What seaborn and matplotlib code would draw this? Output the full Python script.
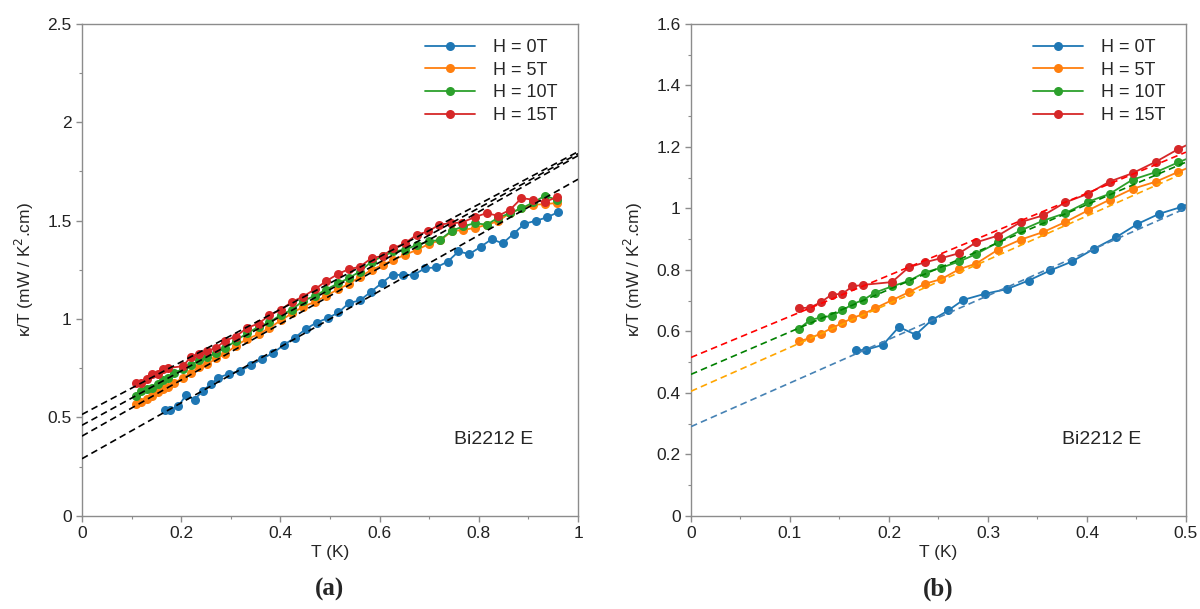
import numpy as np
import pandas as pd
import matplotlib
matplotlib.use("Agg")
import matplotlib.pyplot as plt
import seaborn as sns
from matplotlib.ticker import MultipleLocator, FuncFormatter

sns.set_style("ticks")
plt.rcParams['font.family'] = ['Liberation Sans', 'DejaVu Sans']

labels = ["H = 0T", "H = 5T", "H = 10T", "H = 15T"]
colors = ["#1f77b4", "#ff7f0e", "#2ca02c", "#d62728"]
fit_colors = ["steelblue", "orange", "green", "red"]

# H = 0T
T0 = [0.167, 0.177, 0.194, 0.210, 0.227, 0.243, 0.260, 0.275, 0.297, 0.319, 0.341,
      0.363, 0.385, 0.407, 0.429, 0.451, 0.473, 0.495, 0.517, 0.538, 0.560, 0.582,
      0.604, 0.626, 0.648, 0.669, 0.692, 0.714, 0.737, 0.759, 0.781, 0.804, 0.826,
      0.848, 0.870, 0.892, 0.915, 0.937, 0.960]
K0 = [0.538, 0.540, 0.556, 0.614, 0.589, 0.636, 0.668, 0.702, 0.722, 0.737, 0.765,
      0.798, 0.827, 0.868, 0.905, 0.949, 0.982, 1.004, 1.033, 1.081, 1.094, 1.137,
      1.182, 1.225, 1.223, 1.225, 1.258, 1.262, 1.291, 1.343, 1.330, 1.367, 1.406,
      1.384, 1.433, 1.484, 1.499, 1.516, 1.543]

# common temperature grid for H = 5T and 10T
T5 = [0.109, 0.120, 0.131, 0.142, 0.153, 0.163, 0.174, 0.186, 0.203, 0.220, 0.236,
      0.253, 0.271, 0.288, 0.310, 0.333, 0.356, 0.378, 0.401, 0.423, 0.446, 0.470,
      0.492, 0.517, 0.538, 0.560, 0.584, 0.606, 0.628, 0.651, 0.676, 0.700, 0.722,
      0.745, 0.768, 0.792, 0.816, 0.838, 0.863, 0.886, 0.910, 0.933, 0.957]
K5 = [0.567, 0.578, 0.592, 0.610, 0.627, 0.643, 0.656, 0.675, 0.701, 0.727, 0.754,
      0.770, 0.802, 0.820, 0.865, 0.898, 0.923, 0.955, 0.993, 1.028, 1.063, 1.087,
      1.118, 1.152, 1.178, 1.213, 1.250, 1.275, 1.301, 1.326, 1.352, 1.382, 1.399,
      1.445, 1.453, 1.462, 1.479, 1.496, 1.538, 1.563, 1.580, 1.584, 1.589]

T10 = T5
K10 = [0.608, 0.636, 0.645, 0.650, 0.668, 0.688, 0.702, 0.726, 0.746, 0.764, 0.791,
       0.807, 0.827, 0.851, 0.889, 0.928, 0.960, 0.984, 1.021, 1.047, 1.093, 1.118,
       1.149, 1.182, 1.208, 1.241, 1.292, 1.318, 1.343, 1.352, 1.377, 1.394, 1.402,
       1.448, 1.470, 1.487, 1.479, 1.513, 1.538, 1.563, 1.592, 1.626, 1.606]

T15 = [0.109, 0.120, 0.131, 0.142, 0.153, 0.163, 0.174, 0.203, 0.220, 0.236,
       0.253, 0.271, 0.288, 0.310, 0.333, 0.356, 0.378, 0.401, 0.423, 0.446, 0.470,
       0.492, 0.517, 0.538, 0.560, 0.584, 0.606, 0.628, 0.651, 0.675, 0.698, 0.720,
       0.743, 0.766, 0.792, 0.816, 0.839, 0.863, 0.886, 0.910, 0.933, 0.957]
K15 = [0.675, 0.677, 0.694, 0.719, 0.722, 0.746, 0.751, 0.760, 0.808, 0.824,
       0.838, 0.854, 0.889, 0.911, 0.955, 0.977, 1.019, 1.047, 1.087, 1.114, 1.152,
       1.192, 1.230, 1.253, 1.265, 1.310, 1.320, 1.360, 1.385, 1.428, 1.445, 1.479,
       1.487, 1.490, 1.518, 1.538, 1.524, 1.555, 1.614, 1.606, 1.594, 1.619]

# linear fits: intercept, slope
fit_intercepts = [0.290, 0.405, 0.460, 0.515]
fit_slopes = [1.420, 1.425, 1.380, 1.335]

series = [(T0, K0), (T5, K5), (T10, K10), (T15, K15)]

fig = plt.figure(figsize=(12, 6.09), dpi=100)
axA = fig.add_axes([0.0683, 0.153, 0.4134, 0.808])
axB = fig.add_axes([0.5758, 0.153, 0.4125, 0.808])

def draw(ax, xmax, fit_cols):
    xs = [0.0, xmax]
    for i, (T, K) in enumerate(series):
        sns.lineplot(x=T, y=K, ax=ax, color=colors[i], marker='o', markersize=6.5,
                     markeredgewidth=0, linewidth=1.3, sort=False, estimator=None,
                     label=labels[i])
    for i in range(4):
        ys = [fit_intercepts[i] + fit_slopes[i] * x for x in xs]
        ax.plot(xs, ys, linestyle=(0, (4, 2.5)), color=fit_cols[i], linewidth=1.2,
                zorder=3, label='_nolegend_')

def fmt(v, pos):
    s = f"{v:.2f}".rstrip('0').rstrip('.')
    return s

draw(axA, 1.0, ["black"] * 4)
draw(axB, 0.5, fit_colors)

axA.set_xlim(0, 1)
axA.set_ylim(0, 2.5)
axA.xaxis.set_major_locator(MultipleLocator(0.2))
axA.xaxis.set_minor_locator(MultipleLocator(0.1))
axA.yaxis.set_major_locator(MultipleLocator(0.5))
axA.yaxis.set_minor_locator(MultipleLocator(0.25))

axB.set_xlim(0, 0.5)
axB.set_ylim(0, 1.6)
axB.xaxis.set_major_locator(MultipleLocator(0.1))
axB.xaxis.set_minor_locator(MultipleLocator(0.05))
axB.yaxis.set_major_locator(MultipleLocator(0.2))
axB.yaxis.set_minor_locator(MultipleLocator(0.1))

for ax, tag in [(axA, "(a)"), (axB, "(b)")]:
    ax.xaxis.set_major_formatter(FuncFormatter(fmt))
    ax.yaxis.set_major_formatter(FuncFormatter(fmt))
    for s in ax.spines.values():
        s.set_color("#8c8c8c")
        s.set_linewidth(1.0)
    ax.tick_params(which='major', direction='out', length=4, width=1.0,
                   color="#8c8c8c", labelsize=12.5, labelcolor="#222222")
    ax.tick_params(which='minor', direction='out', length=2.5, width=0.8,
                   color="#8c8c8c")
    ax.set_xlabel("T (K)", fontsize=12.5, labelpad=3)
    ax.set_ylabel(r"κ/T (mW / K$^2$.cm)", fontsize=12.5, labelpad=8)
    ax.text(0.83, 0.155, "Bi2212 E", transform=ax.transAxes, fontsize=14,
            ha='center', va='center')
    ax.text(0.5, -0.15, tag, transform=ax.transAxes, fontsize=18,
            fontweight='bold', family='Liberation Serif', ha='center', va='center')
    ax.legend(loc='upper right', frameon=False, fontsize=13, handlelength=2.8,
              handletextpad=1.0, labelspacing=0.32, borderaxespad=0.3,
              bbox_to_anchor=(0.985, 0.995))

fig.savefig("out.png", dpi=100)
